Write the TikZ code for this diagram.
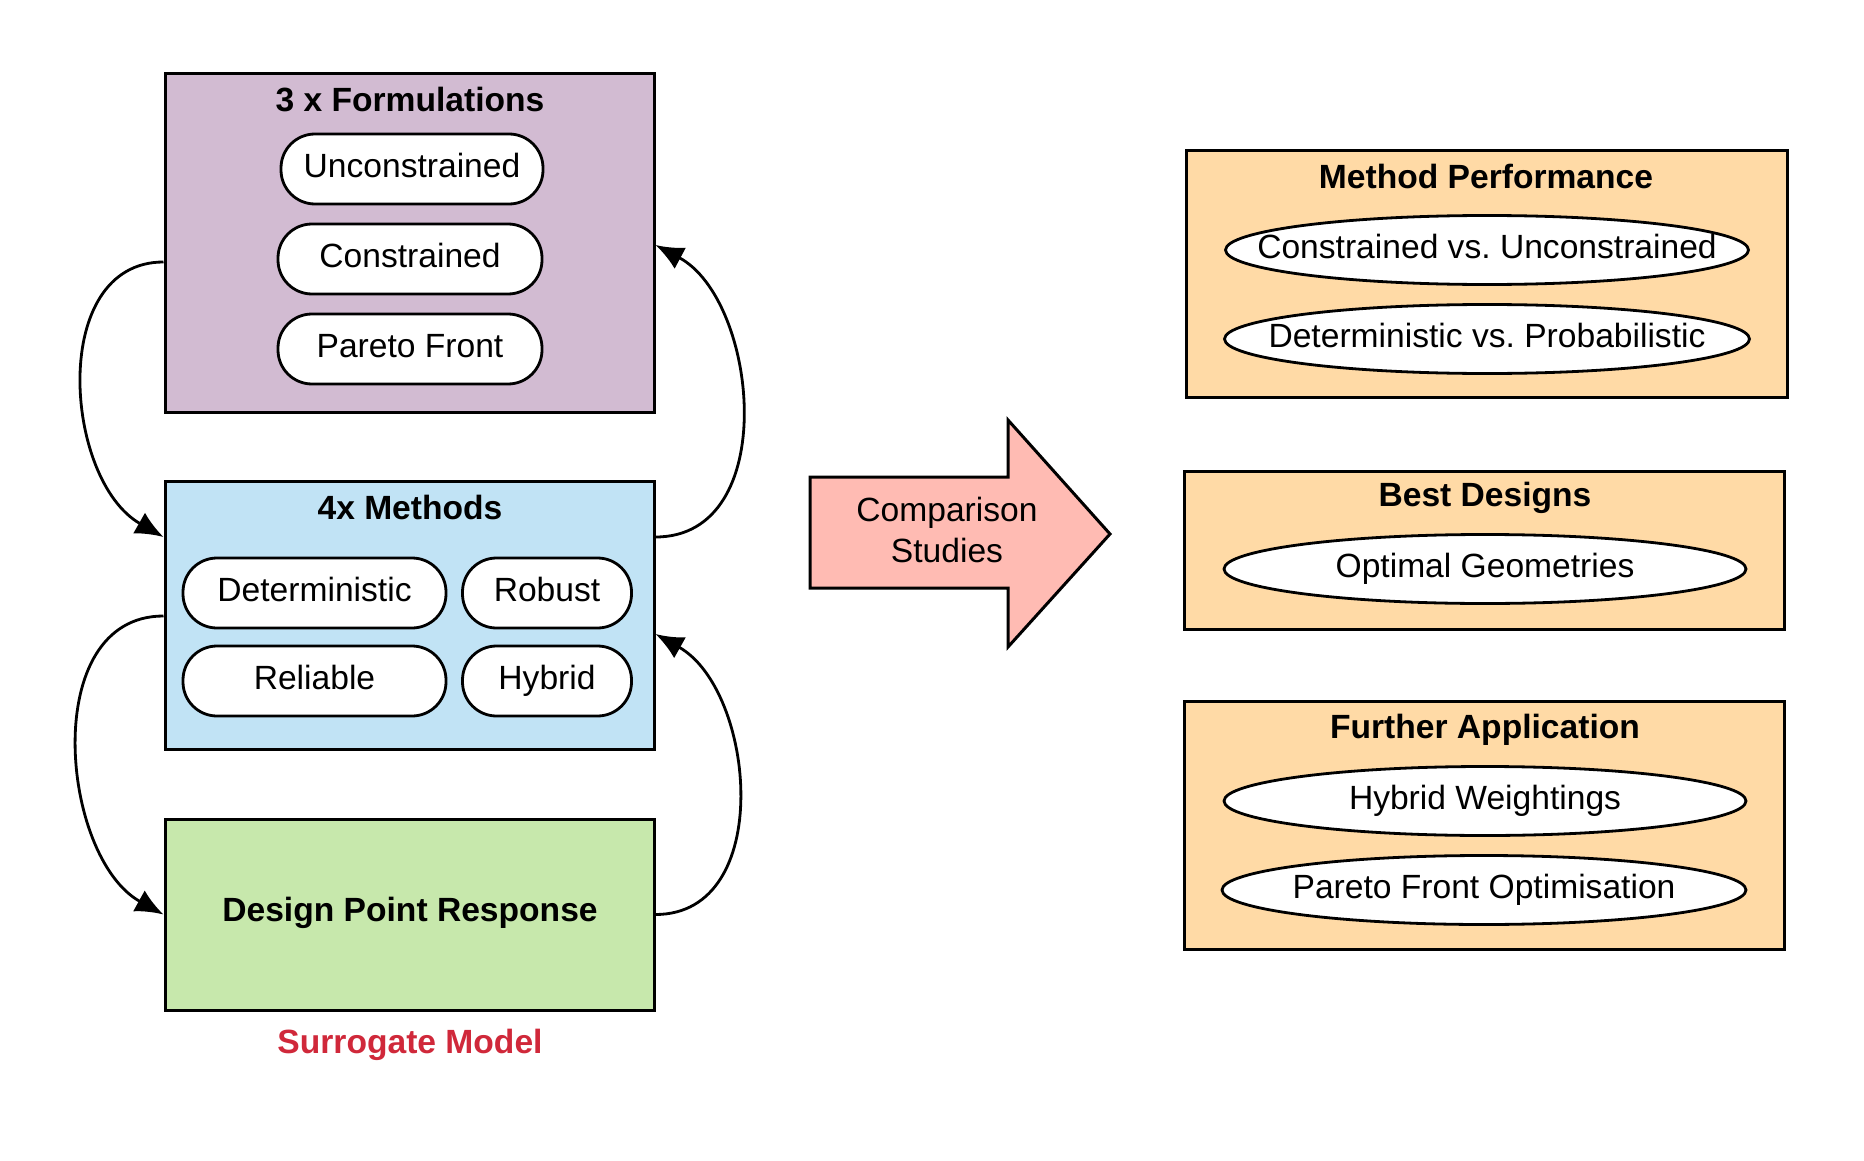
\documentclass[tikz,border=0pt]{standalone}
\usepackage{fontspec}
\setmainfont{Liberation Sans}
\usetikzlibrary{arrows.meta,shapes.geometric}
\definecolor{cpurple}{HTML}{D2BBD2}
\definecolor{cblue}{HTML}{C1E3F5}
\definecolor{cgreen}{HTML}{C7E8AC}
\definecolor{corange}{HTML}{FFDAA6}
\definecolor{cpink}{HTML}{FFBBB3}
\definecolor{cred}{HTML}{D0283A}
\newcommand\myfs{\fontsize{16.8pt}{20.2pt}\selectfont\frenchspacing}
\newcommand\zb[1]{\makebox[0pt]{#1}}
\begin{document}
\begin{tikzpicture}[x=0.5pt,y=-0.5pt,
  box/.style={draw=black, line width=1.5pt, inner sep=0pt},
  pill/.style={draw=black, line width=1.4pt, fill=white, rounded corners=17pt, minimum height=35pt, inner sep=0pt, font=\myfs, text height=11pt, text depth=2.4pt},
  oval/.style={ellipse, draw=black, line width=1.4pt, fill=white, minimum height=34.5pt, inner sep=0pt, font=\myfs, text height=11pt, text depth=2.4pt},
  ttl/.style={font=\myfs\bfseries, inner sep=0pt},
  conn/.style={line width=1.4pt, -{Latex[length=14pt,width=12pt]}}]
\useasboundingbox[fill=white] (0,0) rectangle (1864,1161);

% left boxes
\node[box, fill=cpurple, minimum width=244.5pt, minimum height=169pt] (form) at (409.5,243) {};
\node[ttl] (formt) at (410,100) {3 x Formulations};
\node[pill, minimum width=131pt] (unc) at (412,169) {Unconstrained};
\node[pill, minimum width=132pt] (con) at (410,259) {Constrained};
\node[pill, minimum width=132pt] (par) at (410,349) {Pareto Front};

\node[box, fill=cblue, minimum width=244.5pt, minimum height=134pt] (meth) at (409.5,615) {};
\node[ttl] (metht) at (410,507) {4x Methods};
\node[pill, minimum width=131.5pt] (det) at (314.5,593) {Deterministic};
\node[pill, minimum width=84.5pt] (rob) at (547,593) {Robust};
\node[pill, minimum width=131.5pt] (rel) at (314.5,681) {Reliable};
\node[pill, minimum width=84.5pt] (hyb) at (547,681) {Hybrid};

\node[box, fill=cgreen, minimum width=244.5pt, minimum height=95.5pt] (dpr) at (409.5,914.5) {};
\node[ttl] (dprt) at (410,913) {Design Point Response};
\node[ttl, text=cred] (sur) at (410,1045) {Surrogate Model};

% curved connectors
\draw[conn] ([yshift=-9.5pt]form.west) .. controls +(-115,0) and +(-100,-57) .. ([yshift=39pt]meth.west);
\draw[conn] ([yshift=39pt]meth.east) .. controls +(126,0) and +(103,55) .. ([yshift=-1pt]form.east);
\draw[conn] ([yshift=-0.5pt]meth.west) .. controls +(-125,0) and +(-103,-57) .. (dpr.west);
\draw[conn] (dpr.east) .. controls +(120,0) and +(100,56) .. ([yshift=-9.5pt]meth.east);

% big arrow
\draw[line width=1.5pt, fill=cpink, line join=miter] (810,477) -- (1008,477) -- (1008,420) -- (1110,534) -- (1008,647) -- (1008,588) -- (810,588) -- cycle;
\node[font=\myfs, align=center, inner sep=0pt] (cmp) at (947,530) {Comparison\\Studies};

% right boxes
\node[box, fill=corange, minimum width=300.5pt, minimum height=123pt] (mp) at (1486.5,274) {};
\node[ttl] (mpt) at (1486,176) {Method Performance};
\node[oval, minimum width=261.5pt] (cvu) at (1487,250) {\zb{Constrained vs. Unconstrained}};
\node[oval, minimum width=262.5pt] (dvp) at (1487,339) {\zb{Deterministic vs. Probabilistic}};

\node[box, fill=corange, minimum width=300pt, minimum height=79pt] (bd) at (1484,550) {};
\node[ttl] (bdt) at (1485,498) {Best Designs};
\node[oval, minimum width=261pt] (og) at (1485,569) {\zb{Optimal Geometries}};

\node[box, fill=corange, minimum width=300pt, minimum height=124pt] (fa) at (1484,825) {};
\node[ttl] (fat) at (1485,730) {Further Application};
\node[oval, minimum width=261pt] (hw) at (1485,801) {\zb{Hybrid Weightings}};
\node[oval, minimum width=262pt] (pfo) at (1484,890) {\zb{Pareto Front Optimisation}};
\end{tikzpicture}
\end{document}
